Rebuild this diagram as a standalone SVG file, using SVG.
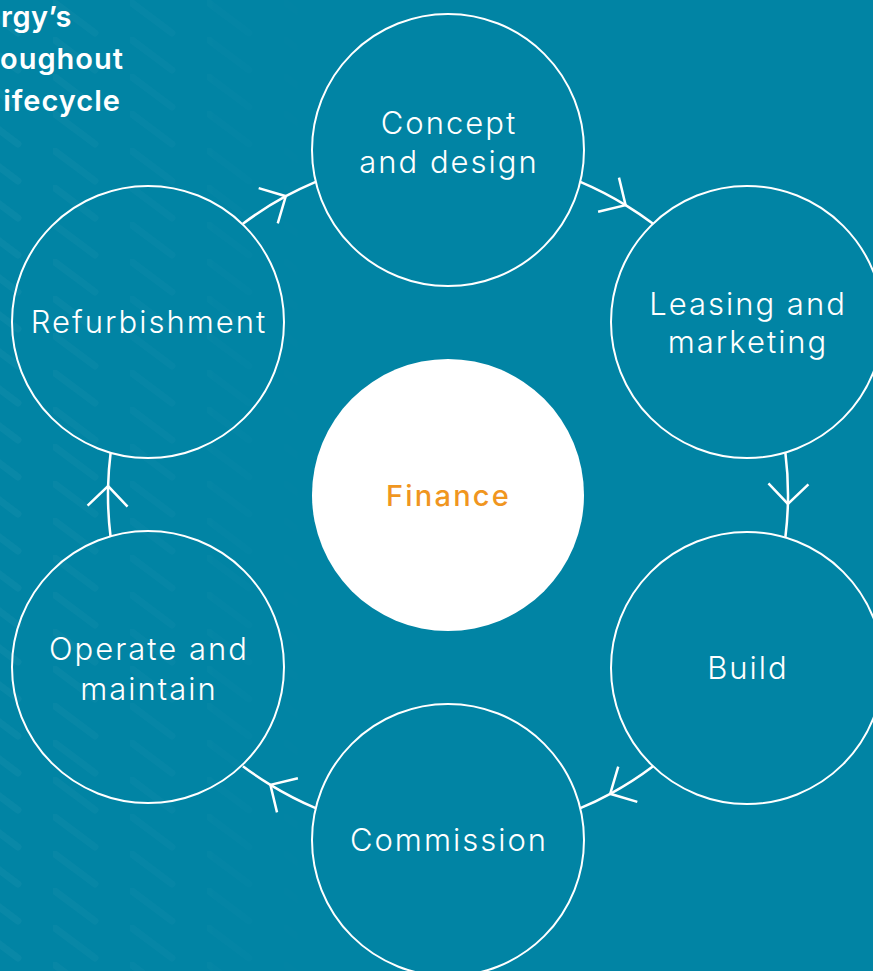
<svg xmlns="http://www.w3.org/2000/svg" width="873" height="971" viewBox="0 0 873 971">
  <style>
    .stage { fill: none; stroke: #ffffff; stroke-width: 2; }
    .hub { fill: #ffffff; }
    .label { font-family: "Inter", "Lato", "Liberation Sans", sans-serif; font-weight: 300; font-size: 31px; fill: #ffffff; text-anchor: middle; letter-spacing: 2px; }
    .hub-label { font-family: "Inter", "Lato", "Liberation Sans", sans-serif; font-weight: 500; font-size: 29px; fill: #f0961f; text-anchor: middle; letter-spacing: 2.2px; }
    .title { font-family: "Inter", "Lato", "Liberation Sans", sans-serif; font-weight: 600; font-size: 29px; fill: #ffffff; text-anchor: end; letter-spacing: 1px; }
    .flow { fill: none; stroke: #ffffff; stroke-width: 2.5; marker-mid: url(#chevron); }
  </style>
  <defs>
    <!-- open chevron placed at the middle vertex of each connector -->
    <marker id="chevron" markerUnits="userSpaceOnUse" markerWidth="60" markerHeight="60" refX="0" refY="0" viewBox="-30 -30 60 60" orient="auto" overflow="visible">
      <path d="M -20 -20 L 0 0 L -20 20" fill="none" stroke="#ffffff" stroke-width="2.5"/>
    </marker>
    <!-- faint diagonal dashes in the background -->
    <pattern id="dashes" patternUnits="userSpaceOnUse" x="53" y="0" width="77" height="37">
      <line x1="2" y1="3" x2="42" y2="33" stroke="#ffffff" stroke-width="7" stroke-linecap="round" stroke-opacity="0.035"/>
    </pattern>
    <linearGradient id="fadeGrad" x1="0" y1="0" x2="1" y2="0">
      <stop offset="0" stop-color="#ffffff" stop-opacity="1"/>
      <stop offset="0.55" stop-color="#ffffff" stop-opacity="0.6"/>
      <stop offset="1" stop-color="#ffffff" stop-opacity="0"/>
    </linearGradient>
    <mask id="fade" maskUnits="userSpaceOnUse" x="0" y="0" width="873" height="971">
      <rect x="0" y="0" width="340" height="971" fill="url(#fadeGrad)"/>
    </mask>
  </defs>

  <!-- background -->
  <rect x="0" y="0" width="873" height="971" fill="#0184a4"/>
  <rect x="0" y="0" width="340" height="971" fill="url(#dashes)" mask="url(#fade)"/>

  <!-- heading, running off the left edge -->
  <g id="heading">
    <text class="title" x="72" y="27" style="letter-spacing:0.5px">rgy’s</text>
    <text class="title" x="124" y="69">oughout</text>
    <text class="title" x="121" y="111">ifecycle</text>
  </g>

  <!-- connectors: arcs of radius 340 about the hub, chevron at the middle vertex -->
  <g id="connectors">
    <path class="flow" d="M 580.3 181.8 A 340 340 0 0 1 625.6 205.1 A 340 340 0 0 1 653.1 223.8"/>
    <path class="flow" d="M 785.4 453.0 A 340 340 0 0 1 787.9 503.9 A 340 340 0 0 1 785.4 537.0"/>
    <path class="flow" d="M 653.1 766.2 A 340 340 0 0 1 610.2 793.8 A 340 340 0 0 1 580.3 808.2"/>
    <path class="flow" d="M 315.7 808.2 A 340 340 0 0 1 270.4 784.9 A 340 340 0 0 1 242.9 766.2"/>
    <path class="flow" d="M 110.6 537.0 A 340 340 0 0 1 108.1 486.1 A 340 340 0 0 1 110.6 453.0"/>
    <path class="flow" d="M 242.9 223.8 A 340 340 0 0 1 285.8 196.2 A 340 340 0 0 1 315.7 181.8"/>
  </g>

  <g id="finance">
    <circle class="hub" cx="448" cy="495" r="136"/>
    <text class="hub-label" x="448.5" y="506">Finance</text>
  </g>

  <g id="concept-design">
    <circle class="stage" cx="448" cy="150" r="136"/>
    <text class="label" x="449" y="134">Concept</text>
    <text class="label" x="449" y="173">and design</text>
  </g>

  <g id="leasing-marketing">
    <circle class="stage" cx="747" cy="322" r="136"/>
    <text class="label" x="748" y="315">Leasing and</text>
    <text class="label" x="748" y="353">marketing</text>
  </g>

  <g id="build">
    <circle class="stage" cx="747" cy="668" r="136"/>
    <text class="label" x="748" y="679">Build</text>
  </g>

  <g id="commission">
    <circle class="stage" cx="448" cy="840" r="136"/>
    <text class="label" x="449" y="851">Commission</text>
  </g>

  <g id="operate-maintain">
    <circle class="stage" cx="148" cy="667" r="136"/>
    <text class="label" x="149" y="660">Operate and</text>
    <text class="label" x="149" y="700">maintain</text>
  </g>

  <g id="refurbishment">
    <circle class="stage" cx="148" cy="322" r="136"/>
    <text class="label" x="149" y="333">Refurbishment</text>
  </g>
</svg>
